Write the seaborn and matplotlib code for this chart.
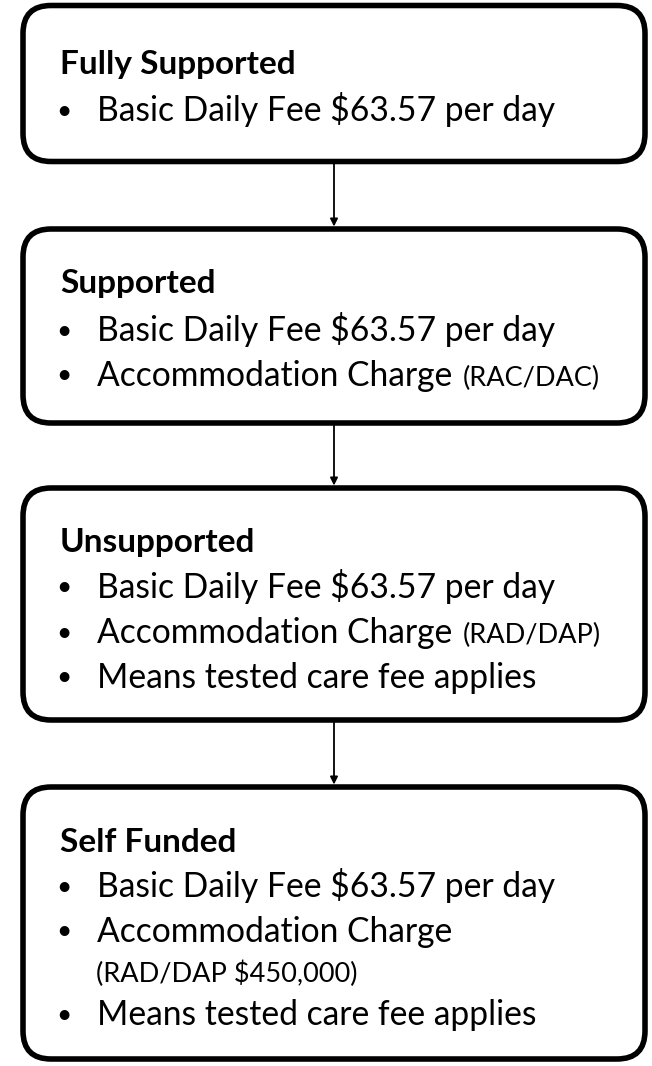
import matplotlib
matplotlib.use("Agg")
import matplotlib.pyplot as plt
import seaborn as sns
from matplotlib.patches import FancyBboxPatch

sns.set_theme(style="white")
plt.rcParams['font.family'] = ['Lato', 'DejaVu Sans']

# ---- data ----
titles = ["Fully Supported", "Supported", "Unsupported", "Self Funded"]
bullets = [
    [("Basic Daily Fee $63.57 per day", "")],
    [("Basic Daily Fee $63.57 per day", ""), ("Accommodation Charge ", "(RAC/DAC)")],
    [("Basic Daily Fee $63.57 per day", ""), ("Accommodation Charge ", "(RAD/DAP)"),
     ("Means tested care fee applies", "")],
    [("Basic Daily Fee $63.57 per day", ""), ("Accommodation Charge", ""),
     ("", "(RAD/DAP $450,000)"), ("Means tested care fee applies", "")],
]
# layout (pixels, y measured from top)
box_left, box_right = 23, 645
box_top = [5.5, 229, 488, 787]
box_bot = [161.5, 423, 720, 1059]
title_base = [74, 293, 552, 852]
line_base = [[121], [341, 386], [598, 643, 688], [897, 942, 982, 1025]]

W, H = 652, 1066
fig = plt.figure(figsize=(W / 100, H / 100), dpi=100)
ax = fig.add_axes([0, 0, 1, 1])
ax.set_xlim(0, W)
ax.set_ylim(H, 0)
ax.axis("off")

r = 28
for i in range(4):
    bx = FancyBboxPatch((box_left + r, box_top[i] + r),
                        box_right - box_left - 2 * r, box_bot[i] - box_top[i] - 2 * r,
                        boxstyle=f"round,pad={r}", fc="white", ec="black", lw=4, zorder=2)
    ax.add_patch(bx)

fig.canvas.draw()
renderer = fig.canvas.get_renderer()
inv = ax.transData.inverted()

for i in range(4):
    ax.text(60, title_base[i], titles[i], fontsize=24, fontweight="bold",
            va="baseline", ha="left", color="black", zorder=3)
    for j, (main, small) in enumerate(bullets[i]):
        y = line_base[i][j]
        if main:
            ax.text(64, y - 10, "\u2022", fontsize=19, va="center", ha="center",
                    color="black", zorder=3)
            t = ax.text(97, y, main, fontsize=24.2, va="baseline", ha="left",
                        color="black", zorder=3)
            if small:
                bb = t.get_window_extent(renderer)
                xe = inv.transform((bb.x1, bb.y0))[0]
                ax.text(xe + 2, y, small, fontsize=19.5, va="baseline", ha="left",
                        color="black", zorder=3)
        else:
            ax.text(96, y, small, fontsize=19.5, va="baseline", ha="left",
                    color="black", zorder=3)

for i in range(3):
    ax.annotate("", xy=(334, box_top[i + 1] - 2.5), xytext=(334, box_bot[i] + 2.5),
                arrowprops=dict(arrowstyle="-|>", color="black", lw=1.3,
                                mutation_scale=11, shrinkA=0, shrinkB=0), zorder=1)

fig.savefig("out.png", dpi=100)
